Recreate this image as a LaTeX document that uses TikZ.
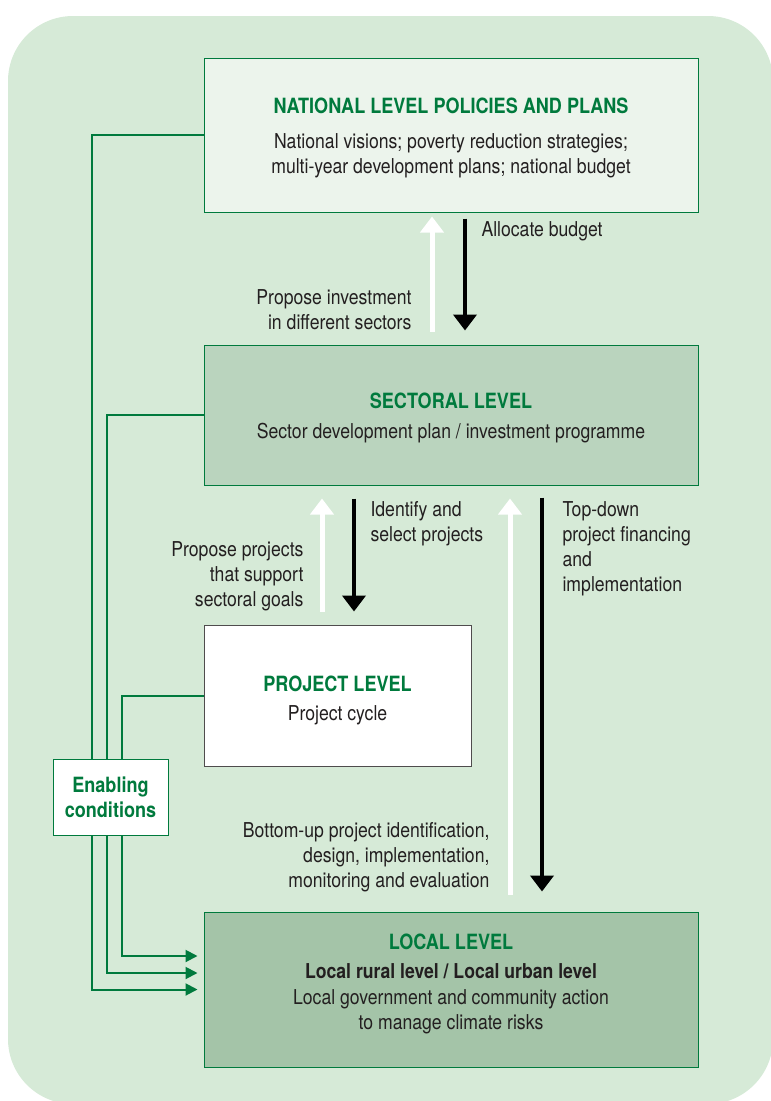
\documentclass[tikz,border=0pt]{standalone}
\usepackage{fontspec}
\setmainfont{TeX Gyre Heros}[FakeStretch=0.86]
\usetikzlibrary{arrows.meta}
\definecolor{levelGreen}{RGB}{0,122,61}
\definecolor{levelBack}{RGB}{214,234,215}
\definecolor{levelNational}{RGB}{236,244,236}
\definecolor{levelSector}{RGB}{186,212,190}
\definecolor{levelLocal}{RGB}{164,196,168}
\definecolor{levelText}{RGB}{35,31,32}

\tikzset{
	levelbox/.style={draw=levelGreen, line width=1pt, align=center, text=levelText, inner sep=0pt},
	label/.style={text=levelText, font=\fontsize{20.5}{25}\selectfont},
	uparrow/.style={draw=white, line width=5pt, -{Triangle[width=23pt,length=16pt]}, white},
	downarrow/.style={draw=black, line width=4pt, -{Triangle[width=23pt,length=16pt]}},
	enable/.style={draw=levelGreen, line width=2pt, -{Triangle[width=12pt,length=12pt]}}
}
\newcommand{\leveltitle}[1]{{\fontsize{21}{25}\selectfont\bfseries\color{levelGreen}#1}}

\begin{document}
\begin{tikzpicture}[x=1pt, y=-1pt, font=\fontsize{20.5}{25}\selectfont]
		\useasboundingbox (0,0) rectangle (771,1101);
		% Background
		\begin{scope}
			\clip (0,0) rectangle (771,1101);
			\fill[levelBack, rounded corners=65pt] (8,16) rectangle (773,1104);
		\end{scope}
		
		% Levels
		\node (nat) at (451,135) [levelbox, fill=levelNational, minimum width=494pt, minimum height=154pt]
			{\rule{0pt}{21pt}\leveltitle{NATIONAL LEVEL POLICIES AND PLANS}\\[10pt]
			National visions; poverty reduction strategies;\\
			multi-year development plans; national budget};
		\node (sect) at (451,415) [levelbox, fill=levelSector, minimum width=494pt, minimum height=140pt]
			{\rule{0pt}{21pt}\leveltitle{SECTORAL LEVEL}\\[5pt]
			Sector development plan / investment programme};
		\node (proj) at (337.5,695.5) [levelbox, draw=levelText!80, fill=white, minimum width=267pt, minimum height=141pt]
			{\rule{0pt}{25pt}\leveltitle{PROJECT LEVEL}\\[4pt]
			Project cycle};
		\node (loc) at (451,989.5) [levelbox, fill=levelLocal, minimum width=494pt, minimum height=155pt]
			{\leveltitle{LOCAL LEVEL}\\[4pt]
			\textbf{Local rural level / Local urban level}\\[1pt]
			Local government and community action\\
			to manage climate risks\\[-9pt]};
		
		% Enabling conditions
		\draw[enable, shorten >=6pt] (nat.west) -- ++(-112,0) |- ([yshift=0pt]loc.west);
		\draw[enable, shorten >=6pt] (sect.west) -- ++(-97,0) |- ([yshift=16.5pt]loc.west);
		\draw[enable, shorten >=6pt] (proj.west) -- ++(-82,0) |- ([yshift=33.5pt]loc.west);
		\node (cond) at (110.5,797) [levelbox, fill=white, minimum width=115pt, minimum height=76pt]
			{\leveltitle{Enabling}\\[0pt]\leveltitle{conditions}};
		
		% Arrows
		\draw[uparrow, shorten <=13pt, shorten >=4pt] ([xshift=-19pt]sect.north) -- ([xshift=-19pt]nat.south);
		\draw[downarrow, shorten <=6pt, shorten >=14pt] ([xshift=14pt]nat.south) -- ([xshift=14pt]sect.north);
		\draw[uparrow, shorten <=13pt, shorten >=13pt] ([xshift=-15.5pt]proj.north) -- ([xshift=-129pt]sect.south);
		\draw[downarrow, shorten <=13pt, shorten >=13pt] ([xshift=-97pt]sect.south) -- ([xshift=16.5pt]proj.north);
		\draw[uparrow, shorten <=17pt, shorten >=13pt] ([xshift=59pt]loc.north) -- ([xshift=59pt]sect.south);
		\draw[downarrow, shorten <=12pt, shorten >=20pt] ([xshift=91pt]sect.south) -- ([xshift=91pt]loc.north);
		
		% Arrow labels
		\node (budget) at (478,231) [label, anchor=west] {Allocate budget};
		\node (invest) at (415,309.5) [label, anchor=east, align=right] {Propose investment\\in different sectors};
		\node (select) at (367,523.5) [label, anchor=west, align=left] {Identify and\\select projects};
		\node (goals) at (307,576) [label, anchor=east, align=right] {Propose projects\\that support\\sectoral goals};
		\node (topdown) at (559,548.5) [label, anchor=west, align=left] {Top-down\\project financing\\and\\implementation};
		\node (bottomup) at (493,857) [label, anchor=east, align=right] {Bottom-up project identification,\\design, implementation,\\monitoring and evaluation};
	\end{tikzpicture}
\end{document}
